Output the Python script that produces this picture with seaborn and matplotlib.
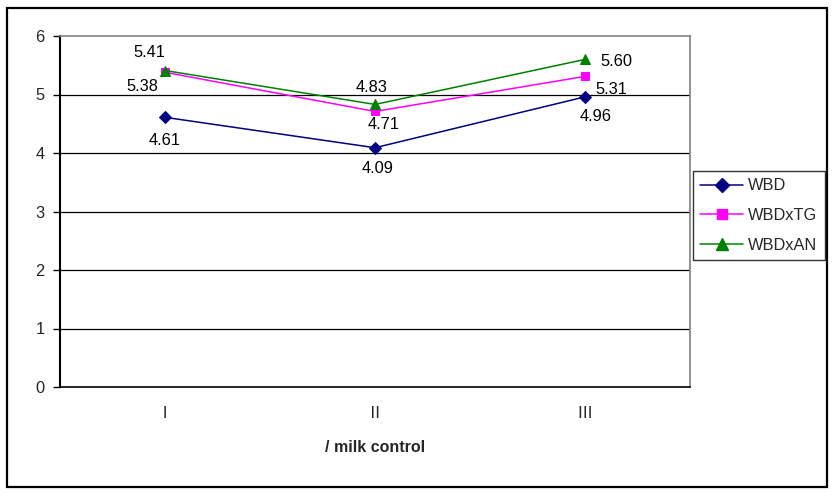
import matplotlib
matplotlib.use("Agg")
import matplotlib.pyplot as plt
from matplotlib.patches import Rectangle
from matplotlib.ticker import FixedLocator
import seaborn as sns
import pandas as pd

categories = ["Ⅰ", "Ⅱ", "Ⅲ"]
series_names = ["WBD", "WBDxTG", "WBDxAN"]
wbd = [4.61, 4.09, 4.96]
wbd_tg = [5.38, 4.71, 5.31]
wbd_an = [5.41, 4.83, 5.60]
y_ticks = [0, 1, 2, 3, 4, 5, 6]

colors = {"WBD": "#000080", "WBDxTG": "#FF00FF", "WBDxAN": "#008000"}
markers = {"WBD": "D", "WBDxTG": "s", "WBDxAN": "^"}
marker_sizes = {"WBD": 6.5, "WBDxTG": 6, "WBDxAN": 7}

# label offsets in pixels (x right, y up) for each series/category
label_offsets = {
    "WBD": [(0, -23), (3, -21), (11, -20)],
    "WBDxTG": [(-23, -14), (9, -13), (26, -13)],
    "WBDxAN": [(-16, 18), (-3, 17), (31, -2)],
}

values = {"WBD": wbd, "WBDxTG": wbd_tg, "WBDxAN": wbd_an}
df = pd.DataFrame(
    [(c, s, v) for s in series_names for c, v in zip(categories, values[s])],
    columns=["period", "series", "value"],
)

sns.set_theme(style="white")
plt.rcParams["font.family"] = ["Liberation Sans", "Noto Sans CJK SC", "DejaVu Sans"]

FS = 11.8

fig = plt.figure(figsize=(8.33, 4.93), dpi=100)
fig.patch.set_facecolor("white")
ax = fig.add_axes([60 / 833, 1 - 387 / 493, 630 / 833, 351 / 493])

for name in series_names:
    sub = df[df["series"] == name]
    sns.lineplot(
        data=sub, x="period", y="value", ax=ax, color=colors[name],
        marker=markers[name], markersize=marker_sizes[name],
        markeredgecolor=colors[name], linewidth=1.1, label=name,
        sort=False, legend=False,
    )
    for i, (c, v) in enumerate(zip(categories, values[name])):
        dx, dy = label_offsets[name][i]
        ax.annotate(f"{v:.2f}", (i, v), xytext=(dx, dy), textcoords="offset pixels",
                    ha="center", va="center", fontsize=FS, color="black")

ax.set_xlim(-0.5, 2.5)
ax.set_ylim(0, 6)
ax.set_yticks(y_ticks)
ax.set_yticklabels([str(t) for t in y_ticks], fontsize=FS)
ax.set_xticks(range(len(categories)))
ax.set_xticklabels(categories, fontsize=FS,
                   family=["Noto Sans CJK SC", "DejaVu Sans"])
ax.xaxis.set_minor_locator(FixedLocator([-0.5, 0.5, 1.5, 2.5]))
ax.tick_params(axis="x", which="major", length=0, pad=13)
ax.tick_params(axis="x", which="minor", length=5, width=1, color="black", direction="out")
ax.tick_params(axis="y", length=5, width=1, color="black", direction="out", pad=6, left=True)

for t in y_ticks[1:-1]:
    ax.axhline(t, color="black", linewidth=0.9, zorder=0)

ax.spines["left"].set_color("black")
ax.spines["left"].set_linewidth(1.5)
ax.spines["bottom"].set_color("black")
ax.spines["bottom"].set_linewidth(1.2)
ax.spines["top"].set_color("#808080")
ax.spines["top"].set_linewidth(1.2)
ax.spines["right"].set_color("#808080")
ax.spines["right"].set_linewidth(1.2)

ax.set_ylabel("")
ax.set_xlabel("/ milk control", fontsize=11.5, fontweight="bold", labelpad=13)

handles = [
    plt.Line2D([], [], color=colors[n], marker=markers[n], markersize=marker_sizes[n] + 1,
               linewidth=1.1, label=n)
    for n in series_names
]
leg = fig.legend(handles=handles, loc="upper left",
                 bbox_to_anchor=(693 / 833, 1 - 171 / 493),
                 frameon=True, fancybox=False, fontsize=FS,
                 handlelength=2.6, borderpad=0.45, labelspacing=0.9,
                 handletextpad=0.3, borderaxespad=0)
leg.get_frame().set_edgecolor("black")
leg.get_frame().set_linewidth(1.0)

fig.patches.append(Rectangle((7 / 833, 1 - 487 / 493), 820 / 833, 479 / 493,
                             transform=fig.transFigure, fill=False,
                             edgecolor="black", linewidth=1.6))

fig.savefig("out.png", dpi=100)
